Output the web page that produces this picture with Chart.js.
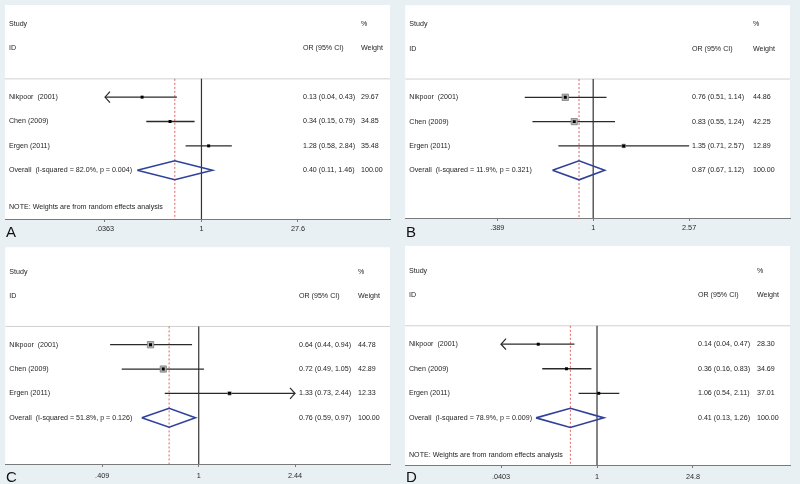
<!DOCTYPE html>
<html><head><meta charset="utf-8">
<script src="https://cdn.jsdelivr.net/npm/chart.js@4.4.1/dist/chart.umd.min.js"></script>
<style>
html,body{margin:0;padding:0;background:#e9f0f4;}
#wrap{position:relative;width:800px;height:484px;overflow:hidden;}
canvas{position:absolute;}
</style></head><body>
<div id="wrap">
<canvas id="cA" width="400" height="242" style="left:0;top:0"></canvas>
<canvas id="cB" width="400" height="242" style="left:400px;top:0"></canvas>
<canvas id="cC" width="400" height="242" style="left:0;top:242px"></canvas>
<canvas id="cD" width="400" height="242" style="left:400px;top:242px"></canvas>
</div>
<script>
// ---------------- DATA ----------------
const studies = ["Nikpoor  (2001)", "Chen (2009)", "Ergen (2011)"];

const orA = [0.13, 0.34, 1.28];
const lowA = [0.04, 0.15, 0.58];
const highA = [0.43, 0.79, 2.84];
const weightA = [29.67, 34.85, 35.48];
const overallA = [0.40, 0.11, 1.46];
const hetA = ["82.0%", "0.004"];
const tickValsA = [0.0363, 1, 27.6];
const tickLabelsA = [".0363", "1", "27.6"];
const arrowsA = ["left", "", ""];

const orB = [0.76, 0.83, 1.35];
const lowB = [0.51, 0.55, 0.71];
const highB = [1.14, 1.24, 2.57];
const weightB = [44.86, 42.25, 12.89];
const overallB = [0.87, 0.67, 1.12];
const hetB = ["11.9%", "0.321"];
const tickValsB = [0.389, 1, 2.57];
const tickLabelsB = [".389", "1", "2.57"];
const arrowsB = ["", "", ""];

const orC = [0.64, 0.72, 1.33];
const lowC = [0.44, 0.49, 0.73];
const highC = [0.94, 1.05, 2.44];
const weightC = [44.78, 42.89, 12.33];
const overallC = [0.76, 0.59, 0.97];
const hetC = ["51.8%", "0.126"];
const tickValsC = [0.409, 1, 2.44];
const tickLabelsC = [".409", "1", "2.44"];
const arrowsC = ["", "", "right"];

const orD = [0.14, 0.36, 1.06];
const lowD = [0.04, 0.16, 0.54];
const highD = [0.47, 0.83, 2.11];
const weightD = [28.30, 34.69, 37.01];
const overallD = [0.41, 0.13, 1.26];
const hetD = ["78.9%", "0.009"];
const tickValsD = [0.0403, 1, 24.8];
const tickLabelsD = [".0403", "1", "24.8"];
const arrowsD = ["left", "", ""];

const noteText = "NOTE: Weights are from random effects analysis";

// ---------------- LAYOUT ----------------
const FONT = '"Liberation Sans", Arial, Helvetica, sans-serif';
const BG = '#e9f0f4';
const SEP_ROW = 2.25;

const panels = [
  {id:'cA', letter:'A', or:orA, lo:lowA, hi:highA, w:weightA, ov:overallA, het:hetA, tv:tickValsA, tl:tickLabelsA, arrows:arrowsA, note:true,
   top:5, axisH:23, yMin:-0.78, yMax:8.0, f0:0.2597, f1:0.761, orX:303, wX:361, box:0, tickPad:3, letterY:237},
  {id:'cB', letter:'B', or:orB, lo:lowB, hi:highB, w:weightB, ov:overallB, het:hetB, tv:tickValsB, tl:tickLabelsB, arrows:arrowsB, note:false,
   top:5, axisH:24, yMin:-0.78, yMax:7.96, f0:0.239, f1:0.7377, orX:292, wX:353, box:0.95, tickPad:3, letterY:237},
  {id:'cC', letter:'C', or:orC, lo:lowC, hi:highC, w:weightC, ov:overallC, het:hetC, tv:tickValsC, tl:tickLabelsC, arrows:arrowsC, note:false,
   top:4, axisH:20, yMin:-1.0, yMax:7.9, f0:0.2519, f1:0.7532, orX:299, wX:358, box:0.95, tickPad:5, letterY:240},
  {id:'cD', letter:'D', or:orD, lo:lowD, hi:highD, w:weightD, ov:overallD, het:hetD, tv:tickValsD, tl:tickLabelsD, arrows:arrowsD, note:true,
   top:4, axisH:19, yMin:-1.0, yMax:7.92, f0:0.2494, f1:0.748, orX:298, wX:357, box:0, tickPad:5, letterY:240}
];

function fmt(v){ return v.toFixed(2); }

const forestPlugin = {
  id: 'forest',
  beforeDraw(chart) {
    const {ctx, chartArea:a} = chart;
    ctx.save();
    ctx.fillStyle = BG; ctx.fillRect(0,0,chart.width,chart.height);
    ctx.fillStyle = '#ffffff'; ctx.fillRect(a.left, a.top, a.right-a.left, a.bottom-a.top);
    ctx.restore();
  },
  afterDatasetsDraw(chart) {
    const P = chart.options.plugins.forest.panel;
    const {ctx} = chart; const xs = chart.scales.x, ys = chart.scales.y;
    ctx.save();
    ctx.strokeStyle = '#2a2a2a'; ctx.lineWidth = 1.2;
    P.arrows.forEach((a, i) => {
      if (!a) return;
      const y = ys.getPixelForValue(3 + i);
      const tip = xs.getPixelForValue(a === 'left' ? P.tv[0] : P.tv[P.tv.length-1]);
      const d = a === 'left' ? 5 : -5;
      ctx.beginPath();
      ctx.moveTo(tip + d, y - 5.5);
      ctx.quadraticCurveTo(tip + d*0.3, y - 1.5, tip, y);
      ctx.quadraticCurveTo(tip + d*0.3, y + 1.5, tip + d, y + 5.5);
      ctx.stroke();
    });
    ctx.restore();
  },
  afterDraw(chart) {
    const P = chart.options.plugins.forest.panel;
    const {ctx, chartArea:a} = chart; const ys = chart.scales.y;
    ctx.save();
    ctx.font = '7.1px ' + FONT;
    ctx.fillStyle = '#1e1e1e';
    ctx.textBaseline = 'middle';
    ctx.textAlign = 'left';
    const lx = a.left + 4;
    ctx.fillText('Study', lx, ys.getPixelForValue(0));
    ctx.fillText('ID', lx, ys.getPixelForValue(1));
    ctx.fillText('%', P.wX, ys.getPixelForValue(0));
    ctx.fillText('OR (95% CI)', P.orX, ys.getPixelForValue(1));
    ctx.fillText('Weight', P.wX, ys.getPixelForValue(1));
    studies.forEach((s, i) => {
      const y = ys.getPixelForValue(3 + i);
      ctx.fillText(s, lx, y);
      ctx.fillText(fmt(P.or[i]) + ' (' + fmt(P.lo[i]) + ', ' + fmt(P.hi[i]) + ')', P.orX, y);
      ctx.fillText(fmt(P.w[i]), P.wX, y);
    });
    const yo = ys.getPixelForValue(6);
    ctx.fillText('Overall  (I-squared = ' + P.het[0] + ', p = ' + P.het[1] + ')', lx, yo);
    ctx.fillText(fmt(P.ov[0]) + ' (' + fmt(P.ov[1]) + ', ' + fmt(P.ov[2]) + ')', P.orX, yo);
    ctx.fillText(fmt(100), P.wX, yo);
    if (P.note) ctx.fillText(noteText, lx, ys.getPixelForValue(7.5));
    ctx.font = '15px ' + FONT;
    ctx.fillStyle = '#111';
    ctx.textBaseline = 'alphabetic';
    ctx.fillText(P.letter, 6, P.letterY);
    ctx.restore();
  }
};

function makeChart(P) {
  const ln0 = Math.log(P.tv[0]), ln1 = Math.log(P.tv[P.tv.length-1]);
  const span = (ln1 - ln0) / (P.f1 - P.f0);
  const lnMin = ln0 - P.f0 * span;
  const xMin = Math.exp(lnMin), xMax = Math.exp(lnMin + span);
  const tMin = P.tv[0], tMax = P.tv[P.tv.length-1];
  const ds = [];
  const lineDs = (data, color, width, order, dash) => ({
    type:'scatter', data, showLine:true, borderColor:color, borderWidth:width,
    pointRadius:0, fill:false, tension:0, order, borderDash: dash || []
  });
  ds.push(lineDs([{x:xMin,y:SEP_ROW},{x:xMax,y:SEP_ROW}], '#d0d0d0', 1, 6));
  ds.push(lineDs([{x:1,y:SEP_ROW},{x:1,y:P.yMax}], '#333333', 1.2, 5));
  ds.push(lineDs([{x:P.ov[0],y:SEP_ROW},{x:P.ov[0],y:P.yMax}], '#e06464', 1, 5, [2,2]));
  studies.forEach((s, i) => {
    const lo = P.arrows[i] === 'left' ? tMin : Math.max(P.lo[i], tMin);
    const hi = P.arrows[i] === 'right' ? tMax : Math.min(P.hi[i], tMax);
    ds.push(lineDs([{x:lo,y:3+i},{x:hi,y:3+i}], '#2a2a2a', 1.3, 4));
  });
  const h = 0.39;
  ds.push(lineDs([{x:P.ov[1],y:6},{x:P.ov[0],y:6-h},{x:P.ov[2],y:6},{x:P.ov[0],y:6+h},{x:P.ov[1],y:6}], '#30419a', 1.6, 3));
  ds.push({type:'scatter', data: P.or.map((v,i)=>({x:v,y:3+i})), pointStyle:'rect',
    pointRadius: P.w.map(w => P.box * Math.sqrt(w) / 1.414 ), backgroundColor:'#b4b4b4', borderColor:'#7e7e7e', borderWidth:0.8, order:2});
  ds.push({type:'scatter', data: P.or.map((v,i)=>({x:v,y:3+i})), pointStyle:'rect',
    pointRadius: 2.1, backgroundColor:'#000', borderColor:'#000', borderWidth:0, order:1});

  return new Chart(document.getElementById(P.id), {
    type:'scatter',
    data:{datasets:ds},
    plugins:[forestPlugin],
    options:{
      responsive:false, animation:false, events:[],
      layout:{padding:{left:5, right:10, top:P.top, bottom:0}},
      plugins:{legend:{display:false}, tooltip:{enabled:false}, forest:{panel:P}},
      scales:{
        x:{type:'logarithmic', position:'bottom', min:xMin, max:xMax, bounds:'data',
           afterBuildTicks: s => { s.ticks = P.tv.map(v => ({value:v})); },
           afterFit: s => { s.height = P.axisH; },
           ticks:{autoSkip:false, maxRotation:0, padding:P.tickPad, color:'#2a2a2a', font:{size:7.3, family:FONT},
                  callback:(v, i) => P.tl[i]},
           grid:{display:true, drawOnChartArea:false, drawTicks:true, tickLength:3, color:'#7a7a7a', lineWidth:1},
           border:{display:true, color:'#7a7a7a', width:1}},
        y:{type:'linear', display:false, reverse:true, min:P.yMin, max:P.yMax}
      }
    }
  });
}
panels.forEach(makeChart);
</script>
</body></html>
